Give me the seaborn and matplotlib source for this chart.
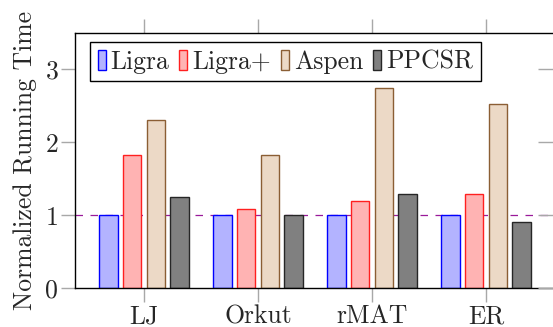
import matplotlib
matplotlib.use("Agg")
import matplotlib.pyplot as plt
import seaborn as sns
import pandas as pd

categories = ["LJ", "Orkut", "rMAT", "ER"]
series = ["Ligra", "Ligra+", "Aspen", "PPCSR"]
ligra = [1.0, 1.0, 1.0, 1.0]
ligra_plus = [1.83, 1.09, 1.20, 1.29]
aspen = [2.30, 1.83, 2.74, 2.53]
ppcsr = [1.25, 1.00, 1.29, 0.90]
yticks = [0, 1, 2, 3]

fills = ["#b3b3ff", "#ffb3b3", "#ecd9c6", "#808080"]
edges = ["#0000ff", "#ff2020", "#8b5e34", "#262626"]

rows = []
for s, vals in zip(series, [ligra, ligra_plus, aspen, ppcsr]):
    for c, v in zip(categories, vals):
        rows.append({"cat": c, "series": s, "val": v})
df = pd.DataFrame(rows)

sns.set_theme(style="white")
plt.rcParams["font.family"] = ["cmr10", "DejaVu Serif"]
plt.rcParams["mathtext.fontset"] = "cm"
plt.rcParams["axes.formatter.use_mathtext"] = True

FS = 18.5

fig = plt.figure(figsize=(5.53, 3.27), dpi=100)
ax = fig.add_axes([75 / 553, 39 / 327, 480 / 553, 255 / 327])

sns.barplot(data=df, x="cat", y="val", hue="series", order=categories,
            hue_order=series, palette=fills, saturation=1, width=0.83, gap=0.22,
            linewidth=1.0, ax=ax, legend=True)
for cont, ec in zip(ax.containers, edges):
    for p in cont.patches:
        p.set_edgecolor(ec)
        p.set_linewidth(1.0)

ax.axhline(1.0, color="#9a1a9a", linestyle=(0, (6, 6)), linewidth=0.9, zorder=0.5)

ax.set_xlim(-0.605, 3.605)
ax.set_ylim(0, 3.5)
ax.set_yticks(yticks)
ax.set_yticklabels([str(t) for t in yticks])
ax.set_xlabel("")
ax.set_ylabel("Normalized Running Time", fontsize=FS, labelpad=6)
ax.tick_params(axis="both", labelsize=FS, direction="out", length=10,
               width=1, color="#a8a8a8", pad=2)
ax.tick_params(axis="x", top=True, bottom=True)
ax.tick_params(axis="y", left=True)
for s in ax.spines.values():
    s.set_color("black")
    s.set_linewidth(1.0)

ax2 = ax.twinx()
ax2.set_ylim(ax.get_ylim())
ax2.set_yticks(yticks)
ax2.set_yticklabels([])
ax2.tick_params(axis="y", direction="in", length=12, width=1, color="#a8a8a8")
for s in ax2.spines.values():
    s.set_visible(False)

handles, labels = ax.get_legend_handles_labels()
for h, ec in zip(handles, edges):
    h.set_edgecolor(ec)
    h.set_linewidth(1.0)
leg = ax.legend(handles, labels, loc="upper left", bbox_to_anchor=(0.031, 0.965),
                borderaxespad=0, ncol=4, fontsize=FS, frameon=True, fancybox=False,
                handlelength=0.31, handleheight=0.82, handletextpad=0.2,
                columnspacing=0.38, borderpad=0.3)
leg.get_frame().set_edgecolor("black")
leg.get_frame().set_linewidth(1.0)
leg.get_frame().set_alpha(1)

fig.savefig("out.png", dpi=100)
